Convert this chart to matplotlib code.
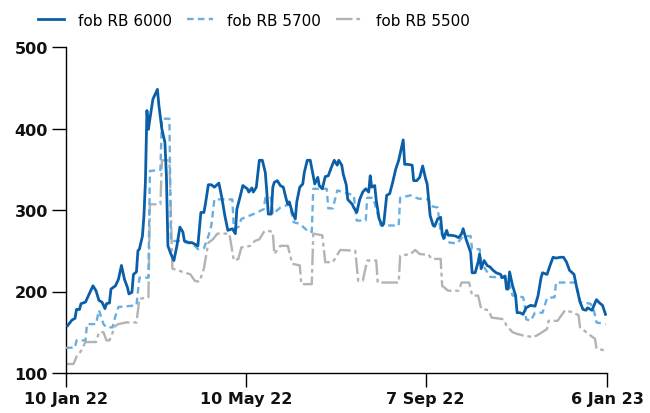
import datetime as dt
import matplotlib
matplotlib.use("Agg")
import matplotlib.pyplot as plt

# ---- data (days since 10 Jan 2022, USD/t) ----
start_date = dt.date(2022, 1, 10)
end_date = dt.date(2023, 1, 6)

rb6000_days = [1, 4, 6, 7, 9, 10, 13, 16, 18, 20, 22, 24, 26, 27, 29, 30, 33, 35, 37, 39,
               41, 42, 44, 45, 47, 48, 49, 51, 52, 53, 54, 55, 56, 58, 61, 62, 64, 66, 67, 68,
               70, 72, 74, 76, 78, 79, 82, 84, 86, 88, 90, 92, 93, 95, 97, 99, 102, 104, 106, 108,
               111, 113, 114, 116, 118, 121, 122, 124, 125, 127, 129, 131, 133, 134, 135, 137, 138, 139, 141, 143,
               145, 147, 148, 149, 151, 153, 154, 156, 158, 159, 161, 163, 165, 166, 168, 169, 171, 173, 175, 177,
               179, 181, 182, 184, 185, 187, 188, 191, 192, 194, 196, 198, 200, 202, 203, 204, 206, 207, 209, 211,
               212, 214, 216, 218, 220, 222, 225, 226, 228, 231, 232, 234, 236, 238, 240, 241, 243, 245, 246, 248,
               250, 251, 252, 254, 255, 257, 260, 262, 264, 265, 267, 270, 271, 273, 275, 276, 277, 279, 281, 283,
               285, 287, 290, 291, 293, 294, 295, 296, 298, 300, 301, 303, 305, 307, 310, 313, 315, 317, 318, 321,
               323, 325, 327, 330, 332, 334, 336, 339, 341, 343, 345, 347, 348, 351, 353, 354, 356, 358, 360]
rb6000 = [158, 165, 167, 178, 178, 185, 187, 199, 207, 201, 189, 187, 179, 185, 186, 203, 207, 215, 232, 215,
          205, 197, 199, 221, 224, 250, 252, 268, 293, 335, 422, 399, 412, 436, 448, 428, 399, 383, 342, 256,
          246, 238, 256, 279, 273, 262, 260, 260, 258, 256, 297, 297, 307, 331, 331, 328, 333, 315, 293, 275,
          277, 271, 301, 315, 330, 326, 322, 327, 322, 328, 361, 361, 346, 322, 295, 295, 328, 334, 336, 330,
          328, 313, 307, 310, 297, 289, 310, 328, 332, 346, 361, 361, 342, 332, 340, 330, 326, 341, 342, 352,
          361, 355, 361, 355, 344, 331, 313, 307, 303, 297, 313, 322, 326, 322, 342, 328, 330, 312, 289, 281,
          283, 318, 320, 334, 350, 361, 386, 356, 356, 355, 336, 336, 340, 354, 338, 332, 293, 281, 280, 289,
          291, 271, 265, 275, 269, 269, 268, 266, 271, 277, 264, 248, 223, 223, 236, 246, 228, 238, 232, 230,
          226, 223, 221, 217, 219, 203, 203, 224, 207, 195, 174, 174, 172, 180, 183, 182, 195, 217, 223, 221,
          232, 242, 241, 242, 242, 236, 226, 221, 203, 187, 178, 177, 180, 177, 186, 190, 186, 183, 172]

rb5700_days = [0, 6, 7, 13, 14, 20, 22, 25, 27, 31, 33, 35, 47, 49, 55, 56, 63, 64, 69, 70,
               76, 85, 88, 92, 95, 97, 99, 111, 112, 115, 117, 125, 132, 133, 137, 138, 143, 149, 152, 156,
               162, 164, 165, 174, 175, 178, 181, 192, 194, 200, 201, 205, 210, 222, 223, 230, 235, 242, 243, 248,
               250, 254, 256, 261, 265, 270, 271, 276, 277, 283, 292, 295, 298, 305, 306, 307, 310, 313, 318, 321,
               326, 327, 340, 342, 343, 350, 352, 354, 360]
rb5700 = [131, 131, 140, 140, 160, 160, 177, 160, 156, 156, 170, 181, 183, 217, 217, 348, 349, 412, 412, 262,
          262, 258, 252, 253, 268, 281, 313, 313, 277, 279, 289, 295, 301, 315, 315, 295, 303, 307, 285, 283,
          273, 273, 326, 326, 302, 302, 324, 318, 287, 287, 315, 315, 281, 281, 315, 318, 314, 313, 305, 303,
          272, 264, 260, 259, 268, 268, 252, 252, 236, 218, 217, 214, 195, 193, 185, 166, 164, 174, 174, 192,
          193, 211, 211, 197, 187, 185, 179, 162, 160]

rb5500_days = [0, 5, 7, 10, 13, 20, 22, 25, 27, 29, 33, 35, 40, 47, 49, 55, 56, 63, 64, 69,
               71, 78, 83, 86, 89, 92, 95, 98, 101, 109, 112, 115, 117, 123, 126, 129, 132, 134, 138, 139,
               143, 148, 151, 156, 157, 164, 165, 171, 173, 178, 183, 193, 195, 198, 201, 207, 208, 222, 223, 230,
               233, 236, 242, 244, 250, 251, 255, 262, 264, 269, 271, 275, 277, 282, 284, 292, 294, 298, 301, 305,
               312, 316, 321, 322, 328, 333, 337, 342, 343, 350, 353, 354, 361]
rb5500 = [111, 111, 120, 127, 138, 138, 150, 150, 140, 140, 158, 160, 162, 162, 191, 193, 307, 307, 361, 361,
          228, 224, 221, 213, 212, 228, 260, 264, 271, 271, 238, 240, 254, 256, 262, 264, 273, 275, 273, 246,
          256, 256, 234, 232, 209, 209, 271, 269, 236, 236, 251, 250, 213, 213, 238, 238, 211, 211, 244, 246,
          251, 246, 245, 240, 240, 207, 201, 201, 211, 211, 195, 195, 179, 177, 168, 166, 158, 150, 148, 146,
          144, 148, 154, 164, 164, 177, 175, 171, 156, 146, 142, 130, 127]

series_labels = ["fob RB 6000", "fob RB 5700", "fob RB 5500"]
tick_dates = [dt.date(2022, 1, 10), dt.date(2022, 5, 10), dt.date(2022, 9, 7), dt.date(2023, 1, 6)]
tick_labels = ["10 Jan 22", "10 May 22", "7 Sep 22", "6 Jan 23"]
y_ticks = [100, 200, 300, 400, 500]


def to_dates(days):
    return [start_date + dt.timedelta(days=d) for d in days]


plt.rcParams["font.family"] = ["DejaVu Sans"]

fig = plt.figure(figsize=(6.5, 4.14), dpi=100)
ax = fig.add_axes([66 / 650, 1 - 374 / 414, (607 - 66) / 650, (374 - 48) / 414])

c_dark = "#0a5fa8"
c_light = "#6aaee0"
c_gray = "#b3b3b3"

l3, = ax.plot(to_dates(rb5500_days), rb5500, color=c_gray, lw=1.7,
              dashes=(7, 1.6, 1.6, 1.6), label=series_labels[2], zorder=2)
l2, = ax.plot(to_dates(rb5700_days), rb5700, color=c_light, lw=1.7,
              dashes=(2.8, 1.8), label=series_labels[1], zorder=3)
l1, = ax.plot(to_dates(rb6000_days), rb6000, color=c_dark, lw=2.0,
              label=series_labels[0], zorder=4)

ax.set_xlim(start_date, end_date)
ax.set_ylim(100, 500)
ax.set_yticks(y_ticks)
ax.set_yticklabels([str(v) for v in y_ticks])
ax.set_xticks(tick_dates)
ax.set_xticklabels(tick_labels)

for s in ["top", "right"]:
    ax.spines[s].set_visible(False)
for s in ["left", "bottom"]:
    ax.spines[s].set_linewidth(1.0)
    ax.spines[s].set_color("black")

ax.tick_params(axis="both", direction="out", length=10, width=1.0, color="black")
ax.tick_params(axis="y", pad=3)
ax.tick_params(axis="x", pad=3)
for lab in ax.get_xticklabels() + ax.get_yticklabels():
    lab.set_fontweight("bold")
    lab.set_fontsize(11.5)
    lab.set_color("#111111")

leg = fig.legend(handles=[l1, l2, l3], labels=series_labels, loc="center left",
                 bbox_to_anchor=(32 / 650, 1 - 21 / 414), ncol=3, frameon=False,
                 fontsize=11, handlelength=1.7, handletextpad=0.9, columnspacing=1.0,
                 borderaxespad=0)

fig.savefig("out.png", dpi=100)
